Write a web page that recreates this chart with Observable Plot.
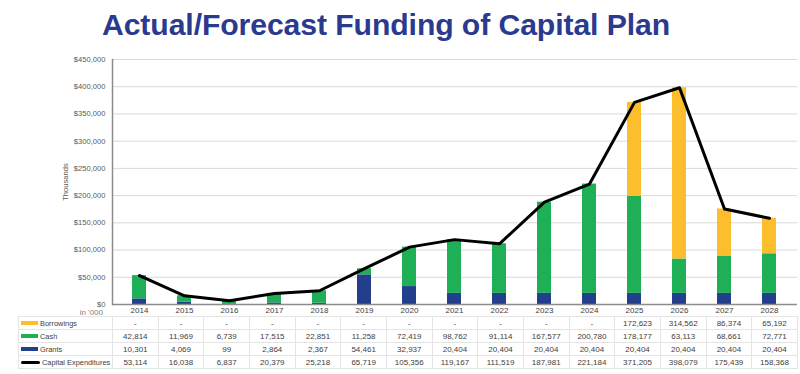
<!DOCTYPE html>
<html><head><meta charset="utf-8">
<script src="https://cdn.jsdelivr.net/npm/d3@7"></script>
<script src="https://cdn.jsdelivr.net/npm/@observablehq/plot@0.6"></script>
<style>
body{margin:0;background:#fff;width:800px;height:374px;overflow:hidden;position:relative;font-family:"Liberation Sans",Arial,sans-serif;}
#title{height:48px;text-align:center;font-weight:bold;font-size:30.2px;color:#2a3a8e;line-height:50px;padding-right:28px;letter-spacing:-0.1px;}
#chart svg{display:block;}
#unit{position:absolute;right:697px;top:309px;font-size:8px;line-height:8px;color:#7f7f7f;z-index:2;}
table{position:absolute;left:18px;top:316px;border-collapse:collapse;table-layout:fixed;width:779px;font-size:8px;color:#404040;}
td{border:1px solid #e4e4e4;height:12px;padding:0;text-align:center;white-space:nowrap;overflow:hidden;}
td.lab{text-align:left;padding-left:2px;font-size:7.4px;}
.sw{display:inline-block;width:17px;height:4px;vertical-align:middle;margin-right:2px;margin-top:-1px;}
</style></head>
<body>
<div id="title">Actual/Forecast Funding of Capital Plan</div>
<div id="chart"></div>
<div id="unit">in '000</div>
<table id="tbl"></table>
<script>
const years = ["2014","2015","2016","2017","2018","2019","2020","2021","2022","2023","2024","2025","2026","2027","2028"];
const borrowings = [0,0,0,0,0,0,0,0,0,0,0,172623,314562,86374,65192];
const cash = [42814,11969,6739,17515,22851,11258,72419,98762,91114,167577,200780,178177,63113,68661,72771];
const grants = [10301,4069,99,2864,2367,54461,32937,20404,20404,20404,20404,20404,20404,20404,20404];
const capex = [53114,16038,6837,20379,25218,65719,105356,119167,111519,187981,221184,371205,398079,175439,158368];
const seriesNames = ["Grants","Cash","Borrowings"];
const seriesColors = ["#233f8b","#1faf57","#fdbe2e"];
const yTicks = [0,50000,100000,150000,200000,250000,300000,350000,400000,450000];

const seriesValues = {Grants: grants, Cash: cash, Borrowings: borrowings};
const stacked = [];
for (const s of seriesNames) years.forEach((y,i)=>stacked.push({year:y, series:s, value:seriesValues[s][i]}));
const lineData = years.map((y,i)=>({year:y, value:capex[i]}));

const fmt = d3.format(",");
const chart = Plot.plot({
  width: 800, height: 268,
  marginTop: 11, marginBottom: 12, marginLeft: 112, marginRight: 3,
  style: {fontFamily: "'Liberation Sans', Arial, sans-serif", fontSize: "8px", color: "#595959", background: "white"},
  x: {domain: years, paddingInner: 0.68, paddingOuter: 0.34, align: 0.5, label: null},
  y: {domain: [0, 450000], label: null},
  color: {domain: seriesNames, range: seriesColors},
  marks: [
    Plot.gridY(yTicks, {stroke: "#d9d9d9", strokeOpacity: 1}),
    Plot.axisY(yTicks, {tickSize: 0, tickPadding: 7, tickFormat: d => "$" + fmt(d), fontSize: 7.6, fill: "#595959",
      label: "Thousands", labelAnchor: "center", labelArrow: "none", labelOffset: 50}),
    Plot.axisX({tickSize: 0, tickPadding: 3, fontSize: 8, fill: "#404040"}),
    Plot.barY(stacked, {x: "year", y: "value", fill: "series", order: seriesNames}),
    Plot.frame({anchor: "left", stroke: "#8c8c8c", strokeWidth: 1.5}),
    Plot.ruleY([0], {stroke: "#8c8c8c", strokeWidth: 1.5}),
    Plot.line(lineData, {x: "year", y: "value", stroke: "black", strokeWidth: 3, strokeLinejoin: "round"})
  ]
});
document.getElementById("chart").appendChild(chart);

// table
const tbl = document.getElementById("tbl");
let colgroup = '<colgroup><col style="width:94px">' + years.map(()=>'<col style="width:45.67px">').join("") + '</colgroup>';
const rows = [
  {name:"Borrowings", vals: borrowings, sw:'<span class="sw" style="background:#fdbe2e"></span>'},
  {name:"Cash", vals: cash, sw:'<span class="sw" style="background:#1faf57"></span>'},
  {name:"Grants", vals: grants, sw:'<span class="sw" style="background:#233f8b"></span>'},
  {name:"Capital Expenditures", vals: capex, sw:'<span class="sw" style="background:#000;height:3px;border-radius:2px;width:19px"></span>'}
];
let html = colgroup;
for (const r of rows) {
  html += '<tr><td class="lab">' + r.sw + r.name + '</td>' + r.vals.map(v => '<td>' + (v === 0 ? '-' : fmt(v)) + '</td>').join("") + '</tr>';
}
tbl.innerHTML = html;
</script>
</body></html>
